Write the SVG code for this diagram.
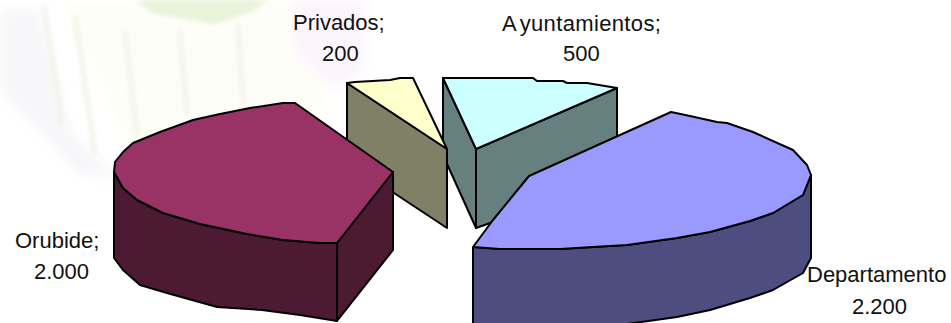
<svg xmlns="http://www.w3.org/2000/svg" width="951" height="323" viewBox="0 0 951 323">
<defs>
<style>
.e{stroke:#000;stroke-width:2;stroke-linejoin:round}
text{font-family:"Liberation Sans",Arial,sans-serif;font-size:22px;fill:#111}
</style>
<filter id="blur" x="-30%" y="-30%" width="160%" height="160%"><feGaussianBlur stdDeviation="6"/></filter>
<filter id="blur2" x="-30%" y="-30%" width="160%" height="160%"><feGaussianBlur stdDeviation="2.5"/></filter>
</defs>
<rect width="951" height="323" fill="#fff"/>
<g id="background">
<path d="M0 10H40L70 130L120 180L80 175L0 90Z" fill="#f7f7f9" filter="url(#blur)"/>
<path d="M60 0H330V100L300 140L130 155Z" fill="#fefef8" filter="url(#blur)"/>
<path d="M345 0H365V70L335 90L295 50L290 0Z" fill="#fcf5fb" filter="url(#blur)"/>
<path d="M135 0H270L250 12L215 24L155 14Z" fill="#e8f3da" filter="url(#blur2)"/>
<g fill="none" stroke="#eff0e4" stroke-width="4" filter="url(#blur2)">
<path d="M44 5L62 125"/><path d="M75 15L95 155"/><path d="M125 30L137 135"/><path d="M180 30L187 115"/><path d="M238 25L243 105"/>
</g>
</g>
<g id="ayuntamientos">
<path class="e" fill="#668080" d="M443 78L476 149V228L443 155Z"/>
<path class="e" fill="#668080" d="M476 149L617 88V145L493 222L476 228Z"/>
<path class="e" fill="#ccffff" d="M443 78H533L537 81L563 81L567 83L587 83L617 88L476 149Z"/>
<text x="502" y="31">A<tspan dx="3" letter-spacing="0.35">yuntamientos;</tspan></text>
<text x="563" y="61">500</text>
</g>
<g id="privados">
<path class="e" fill="#808066" d="M347 83L447 149V228L347 162Z"/>
<path class="e" fill="#ffffcc" d="M347 83L355 82L390 80L400 78H413L447 149Z"/>
<text x="293" y="30">Privados;</text>
<text x="322" y="61">200</text>
</g>
<g id="orubide">
<path class="e" fill="#4d1a33" d="M393 172V250L337 321V243Z"/>
<path class="e" fill="#4d1a33" d="M114 172L123 188L137 200L163 213L200 224L247 234L283 240L320 243L337 243V321L300 315L262 310L217 307L167 293L140 285L123 270L114 258Z"/>
<path class="e" fill="#993366" d="M393 172L295 103H283L250 108L220 114L193 120L160 132L133 143L123 152L115 162L114 172L123 188L137 200L163 213L200 224L247 234L283 240L320 243L337 243Z"/>
<text x="15" y="248">Orubide;</text>
<text x="34" y="279">2.000</text>
</g>
<g id="departamento">
<path class="e" fill="#4d4d80" d="M473 247L500 249H560L593 247L627 245L677 238L710 232L750 221L773 213L803 195L811 175V258L803 273L773 290L750 298L710 310L677 317L627 324H473Z"/>
<path class="e" fill="#9999ff" d="M671 112L690 116L717 122L727 123L753 132L793 150L807 165L811 175L803 195L773 213L750 221L710 232L677 238L627 245L593 247L560 249H500L473 247L493 220L529 176Z"/>
<text x="807" y="282">Departamento</text>
<text x="852" y="314">2.200</text>
</g>
</svg>
